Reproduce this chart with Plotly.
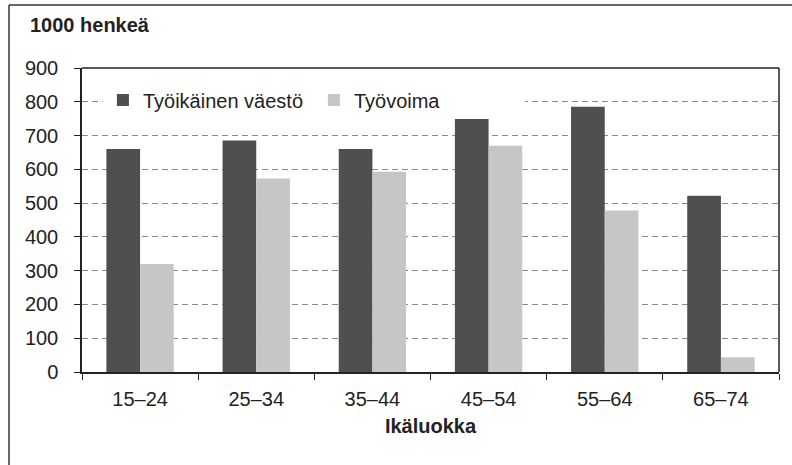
import plotly.graph_objects as go

categories = ["15–24", "25–34", "35–44", "45–54", "55–64", "65–74"]
tyoikainen = [660, 685, 660, 750, 785, 522]
tyovoima = [320, 573, 593, 670, 478, 44]
series_names = ["Työikäinen väestö", "Työvoima"]
y_ticks = [0, 100, 200, 300, 400, 500, 600, 700, 800, 900]

FONT = "Liberation Sans, Arial, sans-serif"

fig = go.Figure()
fig.add_trace(go.Bar(x=categories, y=tyoikainen, name=series_names[0],
                     marker=dict(color="#4f4f4f", line=dict(width=0))))
fig.add_trace(go.Bar(x=categories, y=tyovoima, name=series_names[1],
                     marker=dict(color="#c6c6c6", line=dict(width=0))))

fig.update_layout(
    width=792, height=465,
    margin=dict(l=82, r=13, t=68, b=93, autoexpand=False),
    paper_bgcolor="white", plot_bgcolor="white",
    barmode="group", bargap=0.42, bargroupgap=0,
    font=dict(family=FONT, size=20, color="#222"),
    legend=dict(orientation="h", x=0.03, y=0.895, xanchor="left", yanchor="middle",
                bgcolor="white", font=dict(size=20, color="#222"),
                itemwidth=30, traceorder="normal", entrywidth=166, entrywidthmode="pixels"),
    xaxis=dict(showline=True, linecolor="#222", linewidth=1.5, ticks="outside",
               tickson="boundaries", ticklen=6, tickcolor="#222",
               ticklabelstandoff=8,
               title=dict(text="<b>Ikäluokka</b>", font=dict(size=20), standoff=10),
               tickfont=dict(size=20), mirror=False),
    yaxis=dict(range=[0, 900], tickvals=y_ticks, showline=True, linecolor="#222",
               linewidth=1.5, ticks="outside", ticklen=6, tickcolor="#222",
               ticklabelstandoff=12,
               showgrid=True, gridcolor="#8a8a8a", griddash="6px,4px", gridwidth=1,
               tickfont=dict(size=20), zeroline=False),
    shapes=[
        # white band behind the legend (covers gridline between axis and legend)
        dict(type="rect", xref="paper", yref="paper", x0=0.005, x1=0.54,
             y0=0.855, y1=0.935, fillcolor="white", line=dict(width=0), layer="between"),
        dict(type="line", xref="paper", yref="paper", x0=0, x1=1, y0=1, y1=1,
             line=dict(color="#222", width=1.5)),
        dict(type="line", xref="paper", yref="paper", x0=1, x1=1, y0=0, y1=1,
             line=dict(color="#222", width=1.5)),
        dict(type="line", xref="paper", yref="paper", x0=-0.1047, x1=1.03, y0=1.207, y1=1.207,
             line=dict(color="#333", width=1.5)),
        dict(type="line", xref="paper", yref="paper", x0=-0.1047, x1=-0.1047, y0=1.207, y1=-0.4,
             line=dict(color="#333", width=1.5)),
    ],
    annotations=[
        dict(text="<b>1000 henkeä</b>", xref="paper", yref="paper", x=-0.078, y=1.14,
             xanchor="left", yanchor="middle", showarrow=False, font=dict(size=20, color="#222")),
    ],
)

fig.write_html("out.html",
               config={"displayModeBar": False},
               post_script="document.body.style.margin='0';document.body.style.overflow='hidden';")
